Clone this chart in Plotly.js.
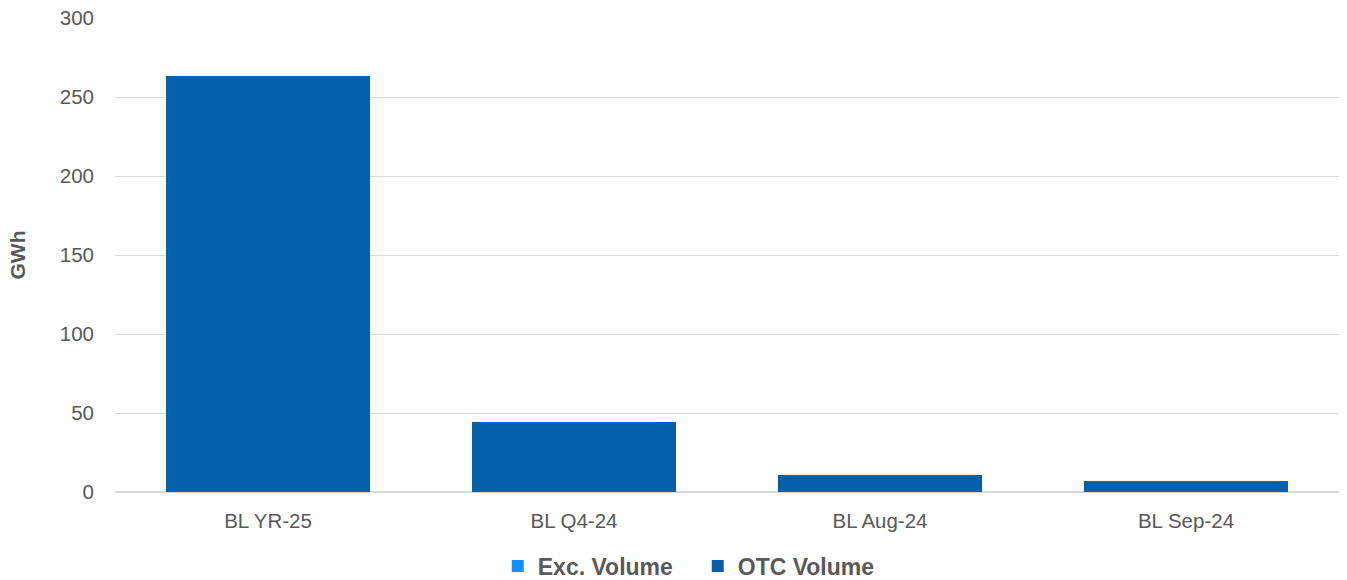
<!DOCTYPE html>
<html>
<head>
<meta charset="utf-8">
<script src="https://cdn.plot.ly/plotly-3.0.1.min.js"></script>
<style>html,body{margin:0;padding:0;background:#fff;}#chart{width:1347px;height:580px;}</style>
</head>
<body>
<div id="chart"></div>
<script>
const categories = ["BL YR-25", "BL Q4-24", "BL Aug-24", "BL Sep-24"];
const excVolume = [0, 0, 0, 0];
const otcVolume = [263.3, 44.3, 10.9, 7.0];
const yTicks = [0, 50, 100, 150, 200, 250, 300];

const FONT = "Liberation Sans, Arial, sans-serif";
const GREY = "#595959";

const traces = [
  {type: "bar", name: "Exc. Volume", x: categories, y: excVolume, marker: {color: "#1190FF"}, hoverinfo: "x+y+name"},
  {type: "bar", name: "OTC Volume", x: categories, y: otcVolume, marker: {color: "#0460AB"}, hoverinfo: "x+y+name"}
];

const layout = {
  width: 1347, height: 580,
  margin: {l: 115, r: 8, t: 18, b: 88, autoexpand: false},
  paper_bgcolor: "#fff", plot_bgcolor: "#fff",
  barmode: "stack",
  bargap: 0.333,
  font: {family: FONT, color: GREY, size: 20.5},
  showlegend: true,
  legend: {
    orientation: "h", xref: "container", yref: "container",
    x: 0.518, xanchor: "center", y: 0.024, yanchor: "middle",
    entrywidth: 155, entrywidthmode: "pixels",
    font: {family: FONT, size: 23, color: GREY, weight: "bold"},
    traceorder: "normal"
  },
  xaxis: {
    type: "category",
    showgrid: false, zeroline: false, showline: false,
    ticks: "", ticklabelstandoff: 14,
    tickfont: {family: FONT, size: 20.5, color: GREY}
  },
  yaxis: {
    range: [0, 300], tickvals: yTicks, ticktext: yTicks.map(String),
    showgrid: true, gridcolor: "#d9d9d9", gridwidth: 1,
    zeroline: true, zerolinecolor: "#d9d9d9", zerolinewidth: 2,
    showline: false, ticks: "", ticklabelstandoff: 20,
    tickfont: {family: FONT, size: 20.5, color: GREY},
    title: {text: "GWh", font: {family: FONT, size: 21, color: GREY, weight: "bold"}, standoff: 28}
  }
};

Plotly.newPlot("chart", traces, layout, {displayModeBar: false, staticPlot: true});
</script>
</body>
</html>
